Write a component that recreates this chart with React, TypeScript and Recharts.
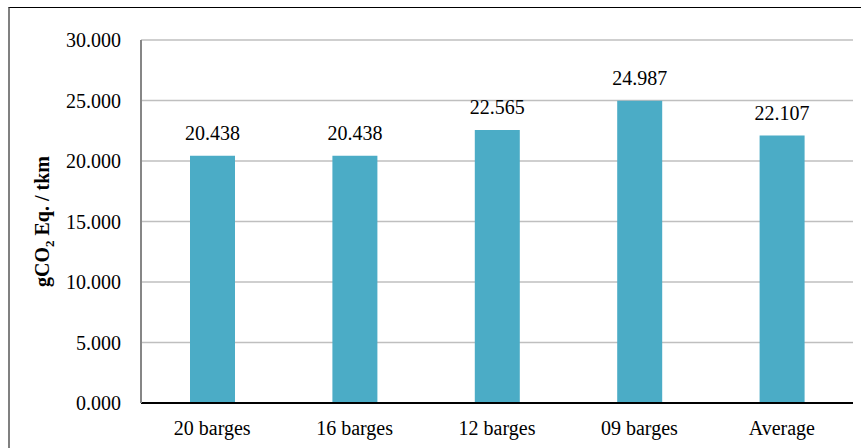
import React from 'react';
import { BarChart, Bar, XAxis, YAxis, CartesianGrid, LabelList } from 'recharts';

const categories = ['20 barges', '16 barges', '12 barges', '09 barges', 'Average'];
const emissions = [20.438, 20.438, 22.565, 24.987, 22.107];
const yTicks = [0, 5, 10, 15, 20, 25, 30];

const data = categories.map((name, i) => ({ name, value: emissions[i] }));

const FONT = '"Liberation Serif", "Times New Roman", serif';

// rotated axis title with a subscript 2
const YTitle = (props: any) => {
  const vb = props.viewBox || { x: 0, y: 40, width: 141, height: 363 };
  const cx = vb.x + 49;
  const cy = vb.y + vb.height / 2;
  return (
    <text
      x={cx}
      y={cy}
      transform={`rotate(-90, ${cx}, ${cy})`}
      textAnchor="middle"
      fontFamily={FONT}
      fontSize={20}
      fontWeight="bold"
      fill="#000"
    >
      <tspan>gCO</tspan>
      <tspan fontSize={13} dy={5}>2</tspan>
      <tspan dy={-5}> Eq. / tkm</tspan>
    </text>
  );
};

const XTick = (props: any) => {
  const { x, y, payload } = props;
  return (
    <text x={x} y={y + 24} textAnchor="middle" fontFamily={FONT} fontSize={20} fill="#000">
      {payload.value}
    </text>
  );
};

const YTick = (props: any) => {
  const { y, payload } = props;
  return (
    <text x={121} y={y + 7} textAnchor="end" fontFamily={FONT} fontSize={20} fill="#000">
      {Number(payload.value).toFixed(3)}
    </text>
  );
};

const ValueLabel = (props: any) => {
  const { x, y, width, value } = props;
  return (
    <text x={x + width / 2} y={y - 16} textAnchor="middle" fontFamily={FONT} fontSize={20} fill="#000">
      {Number(value).toFixed(3)}
    </text>
  );
};

const App: React.FC = () => {
  return (
    <div style={{ position: 'absolute', left: 0, top: 0, width: 861, height: 448, background: '#fff', overflow: 'hidden', fontFamily: FONT }}>
      {/* outer frame, only left and top edges visible */}
      <div
        style={{
          position: 'absolute',
          left: 8,
          top: 7,
          width: 900,
          height: 500,
          borderLeft: '2px solid #808080',
          borderTop: '1px solid #000',
        }}
      />
      <div style={{ position: 'absolute', left: 0, top: 0 }}>
        <BarChart width={861} height={448} data={data} margin={{ top: 40, right: 8, left: 0, bottom: 0 }}>
          <CartesianGrid vertical={false} stroke="#BFBFBF" strokeWidth={1.5} />
          <XAxis
            dataKey="name"
            height={45}
            tickLine={false}
            axisLine={{ stroke: '#000', strokeWidth: 2 }}
            tick={<XTick />}
          />
          <YAxis
            width={141}
            domain={[0, 30]}
            ticks={yTicks}
            tickLine={false}
            axisLine={{ stroke: '#868686', strokeWidth: 2 }}
            tick={<YTick />}
            label={<YTitle />}
          />
          <Bar dataKey="value" fill="#4BACC6" barSize={45} isAnimationActive={false}>
            <LabelList dataKey="value" content={<ValueLabel />} />
          </Bar>
        </BarChart>
      </div>
    </div>
  );
};

export default App;
